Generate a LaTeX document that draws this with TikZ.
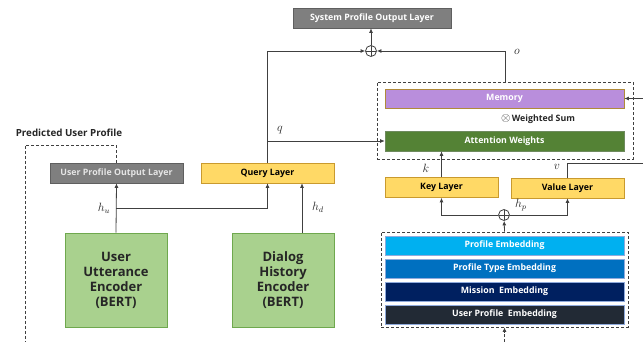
\documentclass[tikz,border=0pt]{standalone}
\usepackage{fontspec}
\setsansfont{Open Sans}
\usetikzlibrary{arrows.meta}
\definecolor{lin}{HTML}{404040}
\definecolor{grayfill}{HTML}{7F7F7F}
\definecolor{grayedge}{HTML}{5F5F5F}
\definecolor{yelfill}{HTML}{FFD966}
\definecolor{yeledge}{HTML}{C99A2E}
\definecolor{memfill}{HTML}{B98EDC}
\definecolor{memedge}{HTML}{B08A3A}
\definecolor{attfill}{HTML}{548235}
\definecolor{attedge}{HTML}{6E8A5E}
\definecolor{encfill}{HTML}{A9D18E}
\definecolor{encedge}{HTML}{6FA84E}
\definecolor{embA}{HTML}{00B0F0}
\definecolor{embB}{HTML}{0070C0}
\definecolor{embC}{HTML}{002060}
\definecolor{embD}{HTML}{222A35}
\definecolor{embedge}{HTML}{8FAADC}
\begin{document}
\begin{tikzpicture}[x=1pt,y=-1pt,
  lbl/.style={font=\sffamily\bfseries\fontsize{8.8}{10}\selectfont},
  box/.style={draw, line width=0.6pt, inner sep=0pt, lbl},
  graybox/.style={box, fill=grayfill, draw=grayedge, text=white},
  yelbox/.style={box, fill=yelfill, draw=yeledge, text=black},
  membox/.style={box, fill=memfill, draw=memedge, text=white},
  attbox/.style={box, fill=attfill, draw=attedge, text=white},
  encbox/.style={box, fill=encfill, draw=encedge, text=black!85, align=center,
     font=\sffamily\bfseries\fontsize{13}{15}\selectfont},
  embbox/.style={box, draw=embedge, text=white, minimum width=239, minimum height=19},
  conn/.style={draw=lin, line width=0.8pt},
  arr/.style={conn, -{Latex[length=4.5pt,width=4pt]}},
  dashbox/.style={draw=lin, line width=0.8pt, dash pattern=on 3pt off 2pt},
  plusnode/.style={draw=lin, line width=0.8pt, circle, minimum size=11pt, inner sep=0pt,
     path picture={\draw[lin, line width=0.8pt] (path picture bounding box.north) -- (path picture bounding box.south)
       (path picture bounding box.west) -- (path picture bounding box.east);}},
  mlab/.style={inner sep=0pt, text=black!85, font=\fontsize{12}{14}\selectfont}
]
\useasboundingbox (0,0) rectangle (643,342);

% top
\node[graybox, minimum width=158, minimum height=20] (spol) at (372,18) {System Profile Output Layer};
\node[plusnode] (plus1) at (371,51) {};

% memory dashed box
\node[dashbox, minimum width=256, minimum height=77, inner sep=0pt] (mbox) at (505,120.5) {};
\node[membox, minimum width=239, minimum height=19] (mem) at (504.5,98.5) {Memory};
\node[lbl, inner sep=0pt, text=black!85] (wsum) at (538,119) {{\fontsize{13}{13}\selectfont$\otimes$}\,Weighted Sum};
\node[attbox, minimum width=239, minimum height=20] (att) at (504.5,141) {Attention Weights};

% key / value
\node[yelbox, minimum width=113, minimum height=20] (key) at (441.5,187.5) {Key Layer};
\node[yelbox, minimum width=113, minimum height=20] (val) at (567.5,188) {Value Layer};
\node[plusnode] (plus2) at (504,215) {};

% embeddings
\node[dashbox, minimum width=247, minimum height=95, inner sep=0pt] (emb) at (504.5,279.5) {};
\node[embbox, fill=embA] (e1) at (504.5,245.5) {Profile Embedding};
\node[embbox, fill=embB] (e2) at (504.5,268.5) {Profile Type Embedding};
\node[embbox, fill=embC] (e3) at (504.5,291.5) {Mission~~Embedding};
\node[embbox, fill=embD] (e4) at (504.5,314.5) {User Profile~~Embedding};

% left side
\node[inner sep=0pt, text=black!85, font=\sffamily\bfseries\fontsize{9.8}{11}\selectfont] (pup) at (69,133) {Predicted User Profile};
\node[graybox, minimum width=133, minimum height=20, text=white!90!black] (upol) at (116.5,173) {User Profile Output Layer};
\node[yelbox, minimum width=133, minimum height=20] (qry) at (267.5,173) {Query Layer};
\node[encbox, minimum width=102, minimum height=94] (uenc) at (116,280) {User\\Utterance\\Encoder\\(BERT)};
\node[encbox, minimum width=102, minimum height=94] (denc) at (283,280) {Dialog\\History\\Encoder\\(BERT)};

% coordinates for free ends
\coordinate (memin) at (643,98.5);
\coordinate (vout) at (643,163);
\coordinate (botin) at (504.5,342);
\coordinate (pturn) at (25,145);
\coordinate (pbot) at (25,342);
\coordinate (hu) at (116,208);

% connectors
\draw[arr] (qry.north) |- (plus1);
\draw[arr] (qry.north |- att.west) -- (att.west);
\draw[arr] (mbox.north) |- (plus1);
\draw[arr] (plus1) -- (plus1 |- spol.south);
\draw[arr] (memin) -- (mem.east);
\draw[conn] (val.north) |- (vout);
\draw[arr] (key.north) -- (key.north |- att.south);
\draw[arr] (plus2) -| (key.south);
\draw[arr] (plus2) -| (val.south);
\draw[arr] (emb.north) -- (plus2);
\draw[arr, dash pattern=on 3pt off 2pt] (botin) -- (emb.south);
\draw[dashbox] (upol.north) |- (pturn) -- (pbot);
\draw[arr] (uenc.north) -- (upol.south);
\draw[arr] (hu) -| (qry.south);
\draw[arr] ([xshift=19pt]denc.north) -- ([xshift=19pt]denc.north |- qry.south);

% math labels
\node[mlab] (lq) at (280,130) {$q$};
\node[mlab] (lo) at (517,52) {$o$};
\node[mlab] (lk) at (426,168) {$k$};
\node[mlab] (lv) at (557,167) {$v$};
\node[mlab] (lhp) at (521,205) {$h_p$};
\node[mlab] (lhu) at (104,208) {$h_u$};
\node[mlab] (lhd) at (318,207) {$h_d$};
\end{tikzpicture}
\end{document}
